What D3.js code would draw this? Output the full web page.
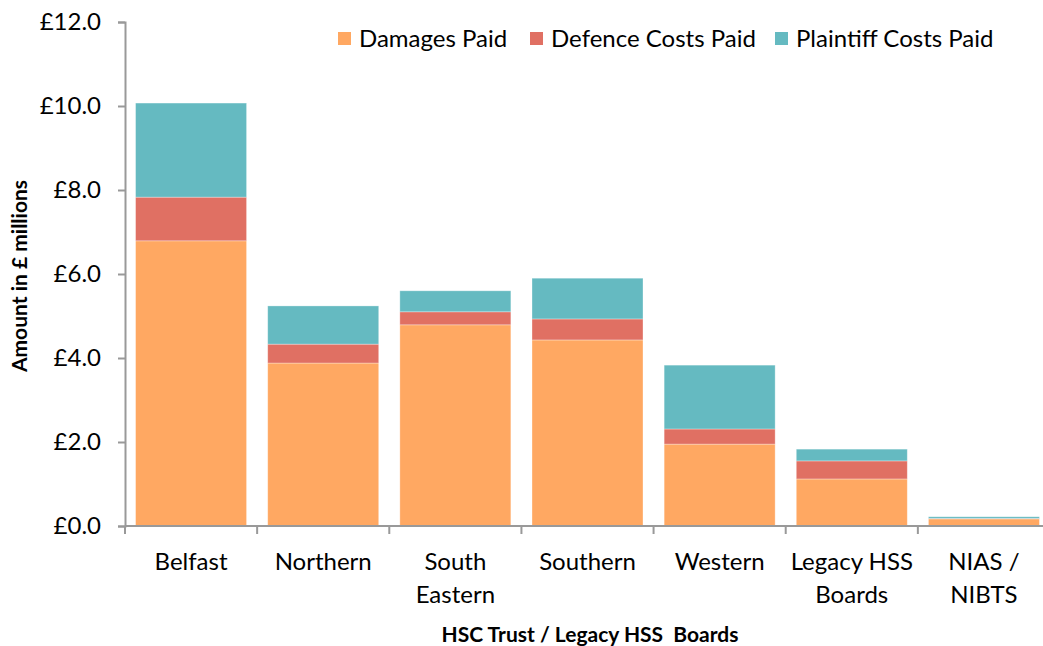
<!DOCTYPE html>
<html>
<head>
<meta charset="utf-8">
<script src="https://cdn.jsdelivr.net/npm/d3@7"></script>
<style>
  body { margin: 0; background: #fff; }
  text { font-family: Lato, "Open Sans", sans-serif; fill: #000; }
</style>
</head>
<body>
<div id="chart"></div>
<script>
// values in £ millions
const trusts = ["Belfast", "Northern", "South Eastern", "Southern", "Western", "Legacy HSS Boards", "NIAS / NIBTS"];
const trustLines = [["Belfast"], ["Northern"], ["South", "Eastern"], ["Southern"], ["Western"], ["Legacy HSS", "Boards"], ["NIAS /", "NIBTS"]];
const damagesPaid = [6.79, 3.88, 4.79, 4.43, 1.95, 1.12, 0.17];
const defenceCosts = [1.04, 0.45, 0.31, 0.50, 0.36, 0.43, 0.01];
const plaintiffCosts = [2.24, 0.91, 0.50, 0.97, 1.52, 0.28, 0.04];
const seriesNames = ["Damages Paid", "Defence Costs Paid", "Plaintiff Costs Paid"];
const yTicks = [0, 2, 4, 6, 8, 10, 12];

const colours = ["#FFA862", "#E07063", "#65BAC1"];

const width = 1043, height = 646;
const svg = d3.select("#chart").append("svg")
    .attr("width", width)
    .attr("height", height);

const x0 = 125, x1 = 1050, yTop = 22, yBottom = 526;

const rows = trusts.map((t, i) => ({
    trust: t,
    "Damages Paid": damagesPaid[i],
    "Defence Costs Paid": defenceCosts[i],
    "Plaintiff Costs Paid": plaintiffCosts[i]
}));
const stacked = d3.stack().keys(seriesNames)(rows);

const xScale = d3.scaleBand().domain(trusts).range([x0, x1]).paddingInner(0.16).paddingOuter(0.08);
const yScale = d3.scaleLinear().domain([0, 12]).range([yBottom, yTop]);
const colour = d3.scaleOrdinal().domain(seriesNames).range(colours);

// bars
svg.append("g").selectAll("g")
    .data(stacked)
    .join("g")
    .attr("fill", d => colour(d.key))
    .selectAll("rect")
    .data(d => d)
    .join("rect")
    .attr("x", d => xScale(d.data.trust))
    .attr("width", xScale.bandwidth())
    .attr("y", d => yScale(d[1]))
    .attr("height", d => yScale(d[0]) - yScale(d[1]))
    .attr("stroke", "#fff")
    .attr("stroke-opacity", 0.4)
    .attr("stroke-width", 0.8);

// y axis
const yAxis = svg.append("g")
    .attr("transform", "translate(" + x0 + ",0)")
    .call(d3.axisLeft(yScale).tickValues(yTicks).tickSize(7).tickPadding(17)
        .tickFormat(d => "£" + d3.format(".1f")(d)));
yAxis.select(".domain").attr("stroke", "#999").attr("stroke-width", 2);
yAxis.selectAll(".tick line").attr("stroke", "#999").attr("stroke-width", 2);
yAxis.selectAll("text").style("font-size", "24px").attr("fill", "#000");

// x axis, with ticks on the band edges
const edges = trusts.map(t => xScale(t) - xScale.step() * xScale.paddingInner() / 2);
const xAxis = svg.append("g").attr("transform", "translate(0," + yBottom + ")");
xAxis.append("line").attr("x1", x0).attr("x2", width).attr("stroke", "#999").attr("stroke-width", 2);
xAxis.selectAll("line.tk")
    .data(edges)
    .join("line")
    .classed("tk", true)
    .attr("x1", d => d).attr("x2", d => d)
    .attr("y1", 0).attr("y2", 8)
    .attr("stroke", "#999").attr("stroke-width", 2);
xAxis.selectAll("text.cat")
    .data(trusts)
    .join("text")
    .classed("cat", true)
    .attr("x", d => xScale(d) + xScale.bandwidth() / 2)
    .attr("text-anchor", "middle")
    .style("font-size", "24px")
    .each(function (d, i) {
        d3.select(this).selectAll("tspan")
            .data(trustLines[i])
            .join("tspan")
            .attr("x", xScale(d) + xScale.bandwidth() / 2)
            .attr("y", (l, k) => 44 + k * 33)
            .text(l => l);
    });

// axis titles
svg.append("text")
    .attr("x", 590).attr("y", 642)
    .attr("text-anchor", "middle")
    .style("font-size", "21px").style("font-weight", "700")
    .style("white-space", "pre")
    .text("HSC Trust / Legacy HSS  Boards");
svg.append("text")
    .attr("transform", "translate(27,276) rotate(-90)")
    .attr("text-anchor", "middle")
    .style("font-size", "21px").style("font-weight", "700")
    .text("Amount in £ millions");

// legend
const legendX = [338, 530, 775];
const legend = svg.append("g").selectAll("g")
    .data(seriesNames)
    .join("g")
    .attr("transform", (d, i) => "translate(" + legendX[i] + ",32)");
legend.append("rect").attr("width", 13).attr("height", 13).attr("fill", d => colour(d));
legend.append("text").attr("x", 21).attr("y", 15).style("font-size", "24px").text(d => d);
</script>
</body>
</html>
